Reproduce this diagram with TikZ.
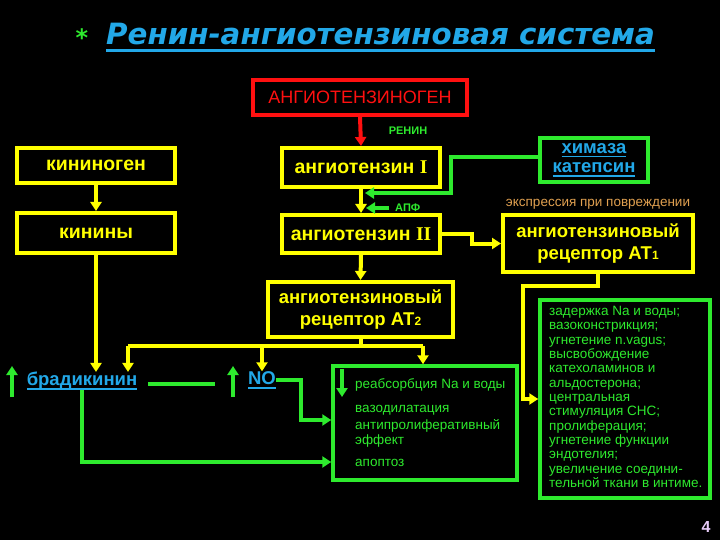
\documentclass[tikz,border=0pt]{standalone}
\usepackage{fontspec}
\setmainfont{Liberation Sans}
\newfontfamily\titlefont{DejaVu Sans}
\newfontfamily\romfont{Liberation Serif}
\usetikzlibrary{arrows.meta,calc}
\newcommand{\myul}[3]{\setbox0=\hbox{#3}\leavevmode\rlap{\vrule height -#2 depth \dimexpr#2+#1\relax width \wd0}\box0}
\definecolor{ylw}{HTML}{FFFF00}
\definecolor{grn}{HTML}{2EEA2E}
\definecolor{rd}{HTML}{FF1010}
\definecolor{cyn}{HTML}{22A8E8}
\definecolor{orng}{HTML}{E0A050}
\definecolor{pgnum}{HTML}{E8CCFA}
\tikzset{
  ybox/.style={draw=ylw, line width=4pt, fill=black, text=ylw, inner sep=0pt, align=center,
    font=\fontsize{18.5}{22}\selectfont\bfseries},
  ybig/.style={ybox, font=\fontsize{19.5}{22}\selectfont\bfseries},
  gbox/.style={draw=grn, line width=3.5pt, fill=black, inner sep=0pt},
  yline/.style={draw=ylw, line width=4pt},
  yarr/.style={yline, -{Triangle[width=11pt,length=9pt]}},
  gline/.style={draw=grn, line width=4pt},
  garr/.style={gline, -{Triangle[width=11pt,length=9pt]}},
  rarr/.style={draw=rd, line width=4pt, -{Triangle[width=11pt,length=9pt]}},
  cyntext/.style={text=cyn, inner sep=0pt, font=\fontsize{18.5}{19}\selectfont\bfseries},
  gtext/.style={text=grn, inner sep=0pt, anchor=base west, font=\fontsize{13.5}{14.3}\selectfont},
}
\begin{document}
\begin{tikzpicture}[x=1pt,y=-1pt]
\fill[black] (0,0) rectangle (720,540);
\useasboundingbox (0,0) rectangle (720,540);

% title
\node[text=grn, inner sep=0pt, anchor=base, font=\titlefont\bfseries\fontsize{24}{30}\selectfont] (star) at (82,47) {*};
\node[text=cyn, inner sep=0pt, anchor=base west, font=\titlefont\bfseries\itshape\fontsize{29.3}{34}\selectfont] (title) at (106,45) {\myul{3pt}{4pt}{Ренин-ангиотензиновая система}};

% boxes
\node[draw=rd, line width=4pt, fill=black, text=rd, inner sep=0pt, minimum width=214pt, minimum height=35pt,
  font=\fontsize{18}{20}\selectfont] (agen) at (360,97.5) {АНГИОТЕНЗИНОГЕН};
\node[ybig, minimum width=158pt, minimum height=35pt] (kgen) at (96,165.5) {кининоген};
\node[ybig, minimum width=158pt, minimum height=39pt] (at1) at (361,167.5) {ангиотензин {\romfont I}};
\node[ybig, minimum width=158pt, minimum height=40pt] (kin) at (96,233) {кинины};
\node[ybig, minimum width=158pt, minimum height=38pt] (at2) at (361,234) {ангиотензин {\romfont II}};
\node[gbox, minimum width=108pt, minimum height=44pt, align=center, text=cyn,
  font=\fontsize{18.5}{19.5}\selectfont\bfseries] (chym) at (594,160) {\myul{1.6pt}{2.5pt}{химаза}\\\myul{1.6pt}{2.5pt}{катепсин}};
\node[ybox, minimum width=190pt, minimum height=57pt] (r1) at (598,243.5)
  {ангиотензиновый\\рецептор АТ{\fontsize{12}{12}\selectfont 1}};
\node[ybox, minimum width=185pt, minimum height=55pt] (r2) at (360.5,309.5)
  {ангиотензиновый\\рецептор АТ{\fontsize{12}{12}\selectfont 2}};
\node[gbox, minimum width=184pt, minimum height=114pt] (e2) at (425,423) {};
\node[gbox, minimum width=170pt, minimum height=198pt] (e1) at (625,399) {};

% small labels
\node[text=grn, inner sep=0pt, font=\fontsize{11}{12}\selectfont\bfseries] (renin) at (408,131) {РЕНИН};
\node[text=grn, inner sep=0pt, anchor=west, font=\fontsize{11}{12}\selectfont\bfseries] (apf) at (395,208) {АПФ};
\node[text=orng, inner sep=0pt, anchor=base, font=\fontsize{13.5}{14}\selectfont] (expr) at (598,207) {экспрессия при повреждении};

% bottom left texts
\node[cyntext] (brady) at (82,381) {\myul{1.6pt}{2.5pt}{брадикинин}};
\node[cyntext] (no) at (262,380) {\myul{1.6pt}{2.5pt}{NO}};

% effect texts AT2
\node[gtext] (t1) at (355,388) {реабсорбция Na и воды};
\node[gtext] (t2) at (355,412) {вазодилатация};
\node[gtext] (t3) at (355,429) {антипролиферативный};
\node[gtext] (t4) at (355,444) {эффект};
\node[gtext] (t5) at (355,466) {апоптоз};

% effect texts AT1
\node[text=grn, inner sep=0pt, anchor=north west, align=left, font=\fontsize{13.5}{14.33}\selectfont] (t6) at (549,306)
{задержка Na и воды;\\вазоконстрикция;\\угнетение n.vagus;\\высвобождение\\катехоламинов и\\альдостерона;\\центральная\\стимуляция СНС;\\пролиферация;\\угнетение функции\\эндотелия;\\увеличение соедини-\\тельной ткани в интиме.};

% page number
\node[text=pgnum, inner sep=0pt, font=\fontsize{16}{18}\selectfont\bfseries] (pg) at (706,527) {4};

% coordinates
\coordinate (cj) at (451,193);
\coordinate (cjend) at (365,193);
\coordinate (apfs) at (389,208);
\coordinate (apfe) at (366,208);
\coordinate (barL) at (128,346);
\coordinate (barR) at (423,346);
\coordinate (ynb) at (0,420);
\coordinate (ybb) at (0,462);
\coordinate (upAb) at (12,397);
\coordinate (upAt) at (12,366);
\coordinate (upBb) at (233,397);
\coordinate (upBt) at (233,366);
\coordinate (dnCt) at (342,369);
\coordinate (dnCb) at (342,397);

% connectors
\draw[rarr] (agen.south) -- (at1.north);
\draw[yarr] (kgen.south) -- (kin.north);
\draw[yarr] (at1.south) -- (at2.north);
\draw[garr] ([yshift=3pt]chym.west) -| (cj) -- (cjend);
\draw[garr] (apfs) -- (apfe);
\draw[yarr] (at2.east) -- ++(30,0) |- (r1.west);
\draw[yarr] (at2.south) -- (r2.north);
\draw[yline] (r2.south) -- (r2.south |- barL);
\draw[yline] (barL) -- (barR);
\draw[yarr] (barL) -- (barL |- brady.north);
\draw[yarr] (no.north |- barL) -- (no.north);
\draw[yarr] (barR) -- (barR |- e2.north);
\draw[yarr] (kin.south) -- (kin.south |- brady.north);
\draw[yarr] (r1.south) -- ++(0,12) -| ($(e1.west)+(-15,0)$) -- (e1.west);
\draw[garr] (upAb) -- (upAt);
\draw[garr] (upBb) -- (upBt);
\draw[garr] (dnCt) -- (dnCb);
\draw[gline] ($(brady.east)+(11,3)$) -- ($(brady.east -| no.west)+(-33,3)$);
\draw[garr] (no.east) -- ++(25,0) |- (e2.west |- ynb);
\draw[garr] (brady.south) |- (e2.west |- ybb);
\end{tikzpicture}
\end{document}
